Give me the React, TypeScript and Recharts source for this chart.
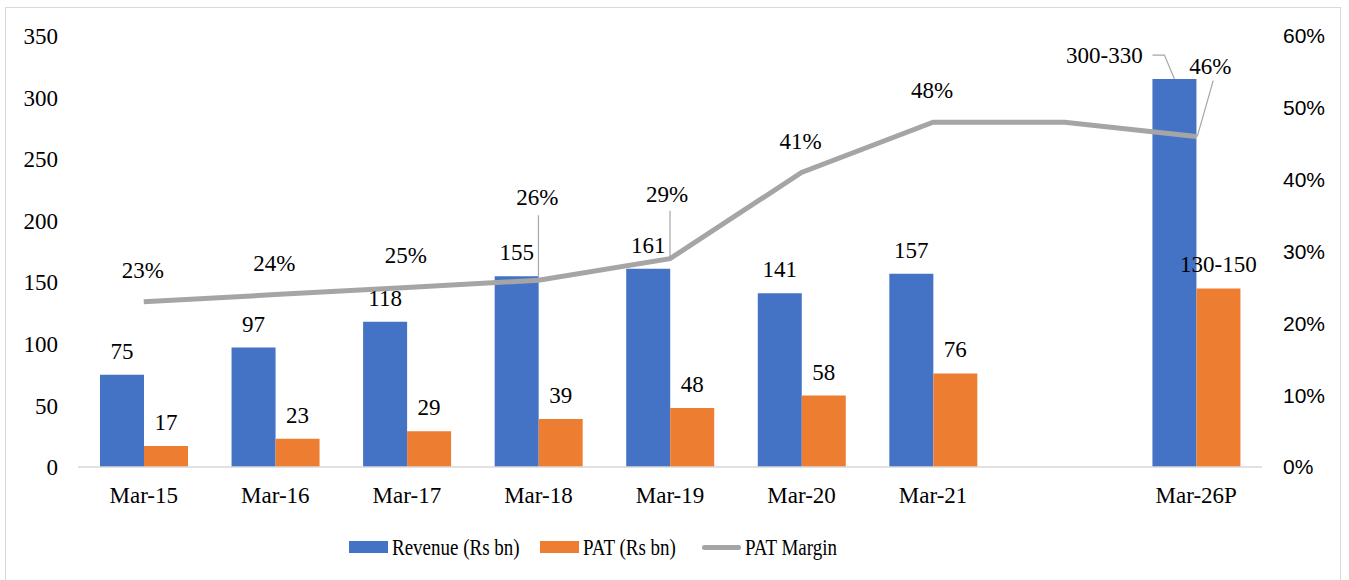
import React from "react";
import {
  ComposedChart,
  Bar,
  Line,
  XAxis,
  YAxis,
  Legend,
  LabelList,
} from "recharts";

const periods = ["Mar-15", "Mar-16", "Mar-17", "Mar-18", "Mar-19", "Mar-20", "Mar-21", "", "Mar-26P"];
const revenue = [75, 97, 118, 155, 161, 141, 157, null, 315];
const revenueText = ["75", "97", "118", "155", "161", "141", "157", "", "300-330"];
const pat = [17, 23, 29, 39, 48, 58, 76, null, 145];
const patText = ["17", "23", "29", "39", "48", "58", "76", "", "130-150"];
const patMargin = [23, 24, 25, 26, 29, 41, 48, 48, 46];
const marginText = ["23%", "24%", "25%", "26%", "29%", "41%", "48%", "", "46%"];
const leftTicks = [0, 50, 100, 150, 200, 250, 300, 350];
const rightTicks = [0, 10, 20, 30, 40, 50, 60];

const rows = periods.map((p, i) => ({
  period: p,
  revenue: revenue[i],
  pat: pat[i],
  margin: patMargin[i],
}));

const BLUE = "#4472C4";
const ORANGE = "#ED7D31";
const GREY = "#A5A5A5";
const SERIF = "'Liberation Serif', 'Times New Roman', serif";
const SANS = "'Liberation Sans', Arial, sans-serif";

// bar value labels; LabelList is keyed on the period so the index is looked up from it
function barLabel(texts: string[], pulled: boolean) {
  return (props: any) => {
    const { x, y, width, value } = props;
    const i = periods.indexOf(value);
    const t = texts[i];
    if (!t) return null;
    const cx = x + width / 2;
    if (pulled && i === 8) {
      const lx = cx - 70;
      const ly = y - 24;
      return (
        <g>
          <polyline
            points={`${lx + 48},${ly} ${lx + 60},${ly} ${cx},${y}`}
            fill="none"
            stroke={GREY}
            strokeWidth={1.2}
          />
          <text x={lx} y={ly} dy="0.35em" textAnchor="middle" fontFamily={SERIF} fontSize={23} fill="#000">
            {t}
          </text>
        </g>
      );
    }
    return (
      <text x={cx} y={y - 24} dy="0.35em" textAnchor="middle" fontFamily={SERIF} fontSize={23} fill="#000">
        {t}
      </text>
    );
  };
}

// margin labels; a few are lifted away from the line and joined back with a leader
const marginLabel = (props: any) => {
  const { x, y, value } = props;
  const index = periods.indexOf(value);
  const t = marginText[index];
  if (!t) return null;
  let dx = -1;
  let dy = -32;
  let leader: string | null = null;
  if (index === 3) {
    dy = -83;
    leader = `${x},${y - 65} ${x},${y}`;
  } else if (index === 4) {
    dx = -3;
    dy = -65;
    leader = `${x},${y - 48} ${x},${y}`;
  } else if (index === 8) {
    dx = 14;
    dy = -71;
    leader = `${x + 17},${y - 56} ${x + 1},${y}`;
  }
  return (
    <g>
      {leader && <polyline points={leader} fill="none" stroke={GREY} strokeWidth={1.2} />}
      <text x={x + dx} y={y + dy} dy="0.35em" textAnchor="middle" fontFamily={SERIF} fontSize={23} fill="#000">
        {t}
      </text>
    </g>
  );
};

const legendItems = [
  { name: "Revenue (Rs bn)", color: BLUE, kind: "bar", left: 349 },
  { name: "PAT (Rs bn)", color: ORANGE, kind: "bar", left: 540 },
  { name: "PAT Margin", color: GREY, kind: "line", left: 702 },
];

const renderLegend = () => (
  <div style={{ position: "relative", width: 1349, height: 30 }}>
    {legendItems.map((it) => (
      <div
        key={it.name}
        style={{
          position: "absolute",
          left: it.left,
          top: 0,
          display: "flex",
          alignItems: "center",
          height: 30,
          fontFamily: SERIF,
          fontSize: 19,
          color: "#000",
          whiteSpace: "nowrap",
        }}
      >
        {it.kind === "bar" ? (
          <span style={{ display: "inline-block", width: 39, height: 12, background: it.color, marginRight: 4 }} />
        ) : (
          <span
            style={{
              display: "inline-block",
              width: 39,
              height: 5,
              borderRadius: 3,
              background: it.color,
              marginRight: 4,
            }}
          />
        )}
        <span style={{ display: "inline-block", transform: "scaleY(1.25)" }}>{it.name}</span>
      </div>
    ))}
  </div>
);

export default function App() {
  return (
    <div style={{ position: "absolute", left: 0, top: 0, width: 1349, height: 580, background: "#fff" }}>
      <div
        style={{
          position: "absolute",
          left: 5,
          top: 7,
          width: 1336,
          height: 580,
          border: "1.5px solid #D9D9D9",
          boxSizing: "border-box",
        }}
      />
      <ComposedChart
        width={1349}
        height={580}
        data={rows}
        margin={{ top: 36, right: 27, bottom: 73, left: 18 }}
        barGap={0}
        style={{ position: "absolute", left: 0, top: 0 }}
      >
        <XAxis
          dataKey="period"
          height={40}
          tickLine={false}
          tickSize={0}
          tickMargin={20}
          axisLine={{ stroke: "#D9D9D9", strokeWidth: 1.5 }}
          tick={{ fontFamily: SERIF, fontSize: 23, fill: "#000" }}
          interval={0}
        />
        <YAxis
          yAxisId="left"
          width={60}
          domain={[0, 350]}
          ticks={leftTicks}
          axisLine={false}
          tickLine={false}
          tickSize={0}
          tickMargin={20}
          tick={{ fontFamily: SERIF, fontSize: 23, fill: "#000" }}
        />
        <YAxis
          yAxisId="right"
          orientation="right"
          width={60}
          domain={[0, 60]}
          ticks={rightTicks}
          axisLine={false}
          tickLine={false}
          tickSize={0}
          tickMargin={21}
          tickFormatter={(v: number) => `${v}%`}
          tick={{ fontFamily: SANS, fontSize: 21, fill: "#000" }}
        />
        <Legend
          layout="horizontal"
          verticalAlign="middle"
          align="center"
          content={renderLegend}
          wrapperStyle={{ top: 532, left: 0, width: 1349 }}
        />
        <Bar yAxisId="left" dataKey="revenue" name="Revenue (Rs bn)" fill={BLUE} barSize={44} isAnimationActive={false}>
          <LabelList dataKey="period" content={barLabel(revenueText, true)} />
        </Bar>
        <Bar yAxisId="left" dataKey="pat" name="PAT (Rs bn)" fill={ORANGE} barSize={44} isAnimationActive={false}>
          <LabelList dataKey="period" content={barLabel(patText, false)} />
        </Bar>
        <Line
          yAxisId="right"
          dataKey="margin"
          name="PAT Margin"
          stroke={GREY}
          strokeWidth={5}
          dot={false}
          activeDot={false}
          isAnimationActive={false}
        >
          <LabelList dataKey="period" content={marginLabel} />
        </Line>
      </ComposedChart>
    </div>
  );
}
